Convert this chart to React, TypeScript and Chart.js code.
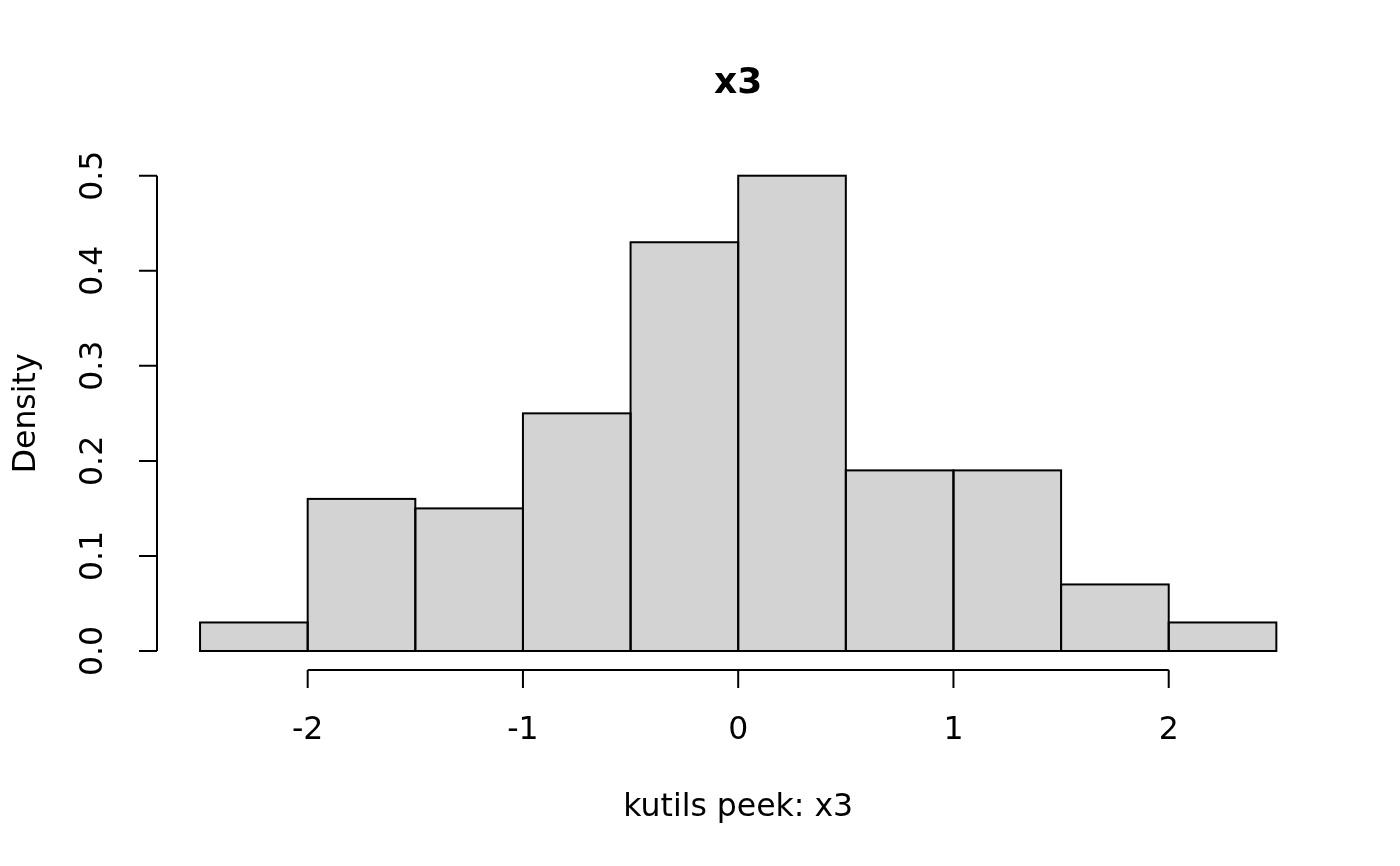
import { useEffect, useRef } from "react";
import { Chart, registerables } from "chart.js";

Chart.register(...registerables);

// histogram of x3 (density scale)
const breaks = [-2.5, -2, -1.5, -1, -0.5, 0, 0.5, 1, 1.5, 2, 2.5];
const density = [0.03, 0.16, 0.15, 0.25, 0.43, 0.5, 0.19, 0.19, 0.07, 0.03];
const xTicks = [-2, -1, 0, 1, 2];
const xTickLabels = ["-2", "-1", "0", "1", "2"];
const yTicks = [0, 0.1, 0.2, 0.3, 0.4, 0.5];
const yTickLabels = ["0.0", "0.1", "0.2", "0.3", "0.4", "0.5"];
const title = "x3";
const xLabel = "kutils peek: x3";
const yLabel = "Density";

const FONT = '"DejaVu Sans", sans-serif';

// R base-graphics style axes, drawn off the chart's own scales
const rAxes = {
  id: "rAxes",
  afterDatasetsDraw(chart: any) {
    const { ctx } = chart;
    ctx.save();
    ctx.strokeStyle = "#000";
    ctx.lineWidth = 2;
    chart.getDatasetMeta(0).data.forEach((bar: any) => {
      const { x, y, base, width } = bar.getProps(["x", "y", "base", "width"], true);
      ctx.strokeRect(x - width / 2, y, width, base - y);
    });
    ctx.restore();
  },
  afterDraw(chart: any) {
    const { ctx, chartArea } = chart;
    const xs = chart.scales.x;
    const ys = chart.scales.y;
    const tick = 18;
    ctx.save();
    ctx.strokeStyle = "#000";
    ctx.fillStyle = "#000";
    ctx.lineWidth = 2;

    // y axis
    const ax = chartArea.left;
    ctx.beginPath();
    ctx.moveTo(ax, ys.getPixelForValue(yTicks[0]));
    ctx.lineTo(ax, ys.getPixelForValue(yTicks[yTicks.length - 1]));
    yTicks.forEach((v) => {
      const py = ys.getPixelForValue(v);
      ctx.moveTo(ax, py);
      ctx.lineTo(ax - tick, py);
    });
    ctx.stroke();

    ctx.font = `31.5px ${FONT}`;
    ctx.textAlign = "center";
    ctx.textBaseline = "alphabetic";
    yTicks.forEach((v, i) => {
      ctx.save();
      ctx.translate(ax - 55, ys.getPixelForValue(v));
      ctx.rotate(-Math.PI / 2);
      ctx.fillText(yTickLabels[i], 0, 0);
      ctx.restore();
    });

    // x axis
    const ay = chartArea.bottom;
    ctx.beginPath();
    ctx.moveTo(xs.getPixelForValue(xTicks[0]), ay);
    ctx.lineTo(xs.getPixelForValue(xTicks[xTicks.length - 1]), ay);
    xTicks.forEach((v) => {
      const px = xs.getPixelForValue(v);
      ctx.moveTo(px, ay);
      ctx.lineTo(px, ay + tick);
    });
    ctx.stroke();
    xTicks.forEach((v, i) => {
      ctx.fillText(xTickLabels[i], xs.getPixelForValue(v), ay + 69);
    });

    const cx = (chartArea.left + chartArea.right) / 2;
    const cy = (chartArea.top + chartArea.bottom) / 2;
    ctx.fillText(xLabel, cx, ay + 146);

    ctx.save();
    ctx.translate(35, cy);
    ctx.rotate(-Math.PI / 2);
    ctx.fillText(yLabel, 0, 0);
    ctx.restore();

    ctx.font = `bold 36px ${FONT}`;
    ctx.fillText(title, cx, 93);
    ctx.restore();
  },
};

export default function App() {
  const canvasRef = useRef<HTMLCanvasElement>(null);
  const chartRef = useRef<Chart | null>(null);

  useEffect(() => {
    document.body.style.margin = "0";
    if (!canvasRef.current) return;
    const ctx = canvasRef.current.getContext("2d");
    if (!ctx) return;

    chartRef.current?.destroy();
    chartRef.current = new Chart(ctx, {
      type: "bar",
      data: {
        datasets: [
          {
            label: yLabel,
            data: density.map((d, i) => ({ x: (breaks[i] + breaks[i + 1]) / 2, y: d })),
            backgroundColor: "#d3d3d3",
            borderWidth: 0,
            barPercentage: 1,
            categoryPercentage: 1,
          },
        ],
      },
      options: {
        responsive: true,
        maintainAspectRatio: false,
        animation: false,
        events: [],
        layout: { padding: { left: 157, right: 80.6, top: 156.7, bottom: 196 } },
        plugins: { legend: { display: false }, tooltip: { enabled: false } },
        scales: {
          x: {
            type: "linear",
            min: -2.7,
            max: 2.7,
            offset: false,
            display: false,
            afterBuildTicks: (s: any) => {
              s.ticks = xTicks.map((value) => ({ value }));
            },
          },
          y: {
            min: -0.02,
            max: 0.52,
            display: false,
            afterBuildTicks: (s: any) => {
              s.ticks = yTicks.map((value) => ({ value }));
            },
          },
        },
      },
      plugins: [rAxes],
    });

    return () => chartRef.current?.destroy();
  }, []);

  return (
    <div style={{ position: "relative", width: 1400, height: 866, background: "#fff" }}>
      <canvas ref={canvasRef} />
    </div>
  );
}
